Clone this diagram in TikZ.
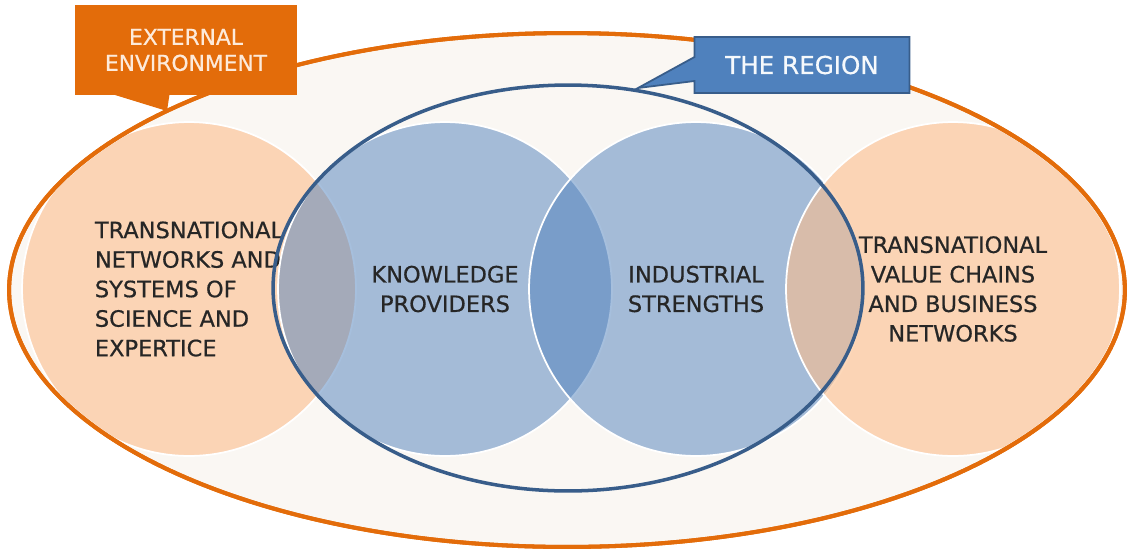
\documentclass[tikz,border=0pt]{standalone}
\usepackage{fontspec}
\setmainfont{DejaVu Sans}
\newfontfamily\heavy[FakeBold=0.6]{DejaVu Sans}
\usepackage{tikz}
\usetikzlibrary{positioning}
\usetikzlibrary{calc}
\usetikzlibrary{shapes.geometric}
\usetikzlibrary{shapes.callouts}
\definecolor{envline}{RGB}{227,108,10}
\definecolor{envfill}{RGB}{250,247,243}
\definecolor{peach}{RGB}{252,190,140}
\definecolor{steel}{RGB}{79,129,189}
\definecolor{regionline}{RGB}{56,93,138}
\definecolor{cream}{RGB}{253,234,218}
\definecolor{ink}{RGB}{38,38,38}
\tikzset{
  disc/.style       = { circle, minimum size=6.68cm, inner sep=0pt, draw=white, line width=1pt },
  words/.style      = { font=\heavy\fontsize{12.8}{16.8}\selectfont, text=ink },
  outside/.style    = { disc, words, fill=peach, fill opacity=0.6, text opacity=1 },
  inside/.style     = { disc, words, fill=steel, fill opacity=0.5, text opacity=1 },
}
\tikzset{
  world/.style      = { ellipse, draw=envline, line width=2.3pt },
  home/.style       = { ellipse, draw=regionline, line width=2pt },
  extbox/.style     = { rectangle, fill=envline, text=cream, align=center,
                        minimum width=4.44cm, minimum height=1.8cm,
                        font=\heavy\fontsize{12.4}{14.8}\selectfont },
  regbox/.style     = { rectangle callout, fill=steel, draw=regionline, line width=1pt,
                        text=white!95!steel, minimum width=4.3cm, minimum height=1.12cm,
                        callout pointer width=0.48cm, font=\heavy\fontsize{14}{16}\selectfont }
}
\begin{document}
\begin{tikzpicture}[x=0.02cm, y=-0.02cm]
  \useasboundingbox (0,0) rectangle (1127,549);
  \node (env) [world, fill=envfill, minimum width=22.32cm, minimum height=10.28cm] at (567,290) {};

  \begin{scope}
    \clip (env.center) ellipse [x radius=11.1cm, y radius=5.09cm];
    \node (science)   [outside, align=left]   at (189,289) {TRANSNATIONAL\\NETWORKS AND\\SYSTEMS OF\\SCIENCE AND\\EXPERTICE};
    \node (knowledge) [inside, align=center]  at (445,289) {KNOWLEDGE\\PROVIDERS};
    \node (industry)  [inside, align=center]  at (696,289) {INDUSTRIAL\\STRENGTHS};
    \node (business)  [outside, align=center] at (953,289) {TRANSNATIONAL\\VALUE CHAINS\\AND BUSINESS\\NETWORKS};
  \end{scope}
  \node (envrim) [world, minimum width=22.32cm, minimum height=10.28cm] at (env.center) {};

  \node (region) [home, minimum width=11.8cm, minimum height=8.12cm] at (568,288) {};

  \node (extlabel) [extbox] at (186,50) {EXTERNAL\\ENVIRONMENT};
  \coordinate (exttip) at (167,111);
  \fill [envline] ([shift={(35,-2)}]extlabel.south west) -- (exttip) -- ([shift={(95,-2)}]extlabel.south west) -- cycle;

  \node (reglabel) [regbox, callout absolute pointer={(638,88)}] at (802,65) {THE REGION};
\end{tikzpicture}
\end{document}
